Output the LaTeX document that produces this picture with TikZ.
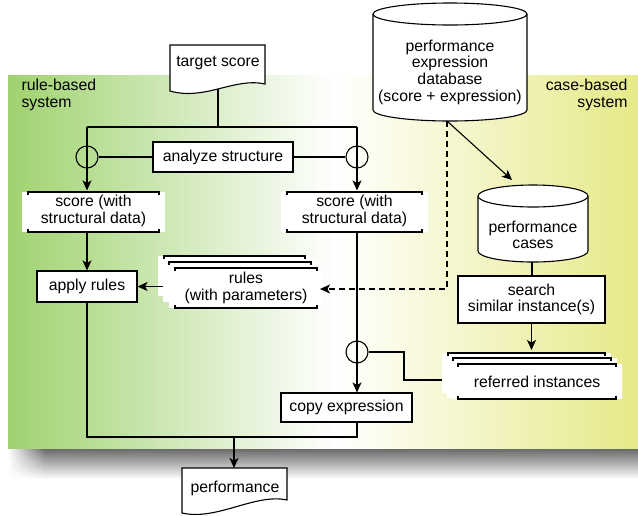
\documentclass[tikz,border=0pt]{standalone}
\usepackage{fontspec}
\setmainfont{Liberation Sans}
\usetikzlibrary{arrows.meta,calc,fadings}
\definecolor{bgreen}{RGB}{160,210,112}
\definecolor{byellow}{RGB}{230,233,135}
% x1,y1,x2,y2 : white card with ticked top and bottom lines
\newcommand\tickedcard[4]{%
  \fill[white] (#1-6,#2) rectangle (#3+6,#4);
  \draw (#1,#2+3) -- (#1,#2) -- (#3,#2) -- (#3,#2+3);
  \draw (#1,#4-3) -- (#1,#4) -- (#3,#4) -- (#3,#4-3);
}
% x1,y1,x2 : back card of a stack (top line only)
\newcommand\backcard[3]{%
  \fill[white] (#1-6,#2) rectangle (#3+6,#2+40);
  \draw (#1,#2+3) -- (#1,#2) -- (#3,#2) -- (#3,#2+3);
}
\begin{document}
\begin{tikzpicture}[x=1pt,y=-1pt,line width=1.1pt,
  font=\fontsize{15.8}{16.7}\selectfont,
  box/.style={draw,fill=white,align=center,inner sep=0pt},
  txt/.style={align=center,inner sep=0pt},
  arr/.style={-{Stealth[length=10pt,width=9pt,inset=2.5pt]}},
  circ/.style={draw,circle,minimum size=22pt,inner sep=0pt},
  dsh/.style={dash pattern=on 6pt off 4pt}]
\useasboundingbox (0,0) rectangle (638,515);
% background band
\shade[left color=bgreen,right color=white] (8,75) rectangle (335,449);
\shade[left color=white,right color=byellow] (334.5,75) rectangle (638,449);
\shade[top color=black!58,bottom color=white] (8,449) rectangle (638,479);
\fill[white,path fading=east] (8,449) rectangle (45,480);
% side labels
\node[align=left,inner sep=0pt,anchor=west] (lrb) at (21,95) {rule-based\\system};
\node[align=right,inner sep=0pt,anchor=east] (lcb) at (628,95) {case-based\\system};
% target score document
\draw[fill=white] (170,45) -- (265,45) -- (265,84) .. controls (235,77) and (205,101) .. (170,91) -- cycle;
\node[txt] (ts) at (218,63) {target score};
\coordinate (tsb) at (218,89);
\coordinate (j1) at (218,127);
\coordinate (jl) at (87,127);
\coordinate (jr) at (357,127);
% analyze structure
\node[circ] (c1) at (87,157) {};
\node[circ] (c2) at (357,157) {};
\node[box,minimum width=140pt,minimum height=30pt] (az) at (223,157) {analyze structure};
% score cards
\tickedcard{28}{192}{159}{232}
\node[txt,minimum width=131pt,minimum height=40pt] (s1) at (93.5,211) {score (with\\structural data)};
\tickedcard{287}{192}{422}{232}
\node[txt,minimum width=135pt,minimum height=40pt] (s2) at (354.5,211) {score (with\\structural data)};
% apply rules
\node[box,minimum width=100pt,minimum height=31pt] (ar) at (87,286.5) {apply rules};
% rules stack
\backcard{164}{256}{305}
\backcard{169}{262}{311}
\tickedcard{175}{268}{317}{308}
\node[txt] (rl) at (246,288) {rules\\(with parameters)};
\coordinate (rlout) at (163,286.5);
\coordinate (rlin) at (320,289);
% database
\fill[white] (373,14) rectangle (527,110);
\fill[white] (450,110) ellipse[x radius=77,y radius=11];
\fill[white] (450,14) ellipse[x radius=77,y radius=11];
\draw (373,14) -- (373,110) arc[start angle=180,end angle=0,x radius=77,y radius=11] -- (527,14);
\draw (450,14) ellipse[x radius=77,y radius=11];
\node[txt] (db) at (450,72) {performance\\expression\\database\\(score + expression)};
\coordinate (dbb) at (447,121);
% performance cases
\fill[white] (478,196) rectangle (588,251);
\fill[white] (533,251) ellipse[x radius=55,y radius=11];
\fill[white] (533,196) ellipse[x radius=55,y radius=11];
\draw (478,196) -- (478,251) arc[start angle=180,end angle=0,x radius=55,y radius=11] -- (588,196);
\draw (533,196) ellipse[x radius=55,y radius=11];
\node[txt] (pc) at (533,235) {performance\\cases};
\coordinate (pct) at (512,180);
\coordinate (pcb) at (532,262);
% search
\node[box,minimum width=147pt,minimum height=47pt] (sr) at (531.5,299.5) {search\\similar instance(s)};
% referred instances stack
\backcard{448}{353}{605}
\backcard{453}{358}{611}
\tickedcard{458}{364}{616}{399}
\node[txt] (ri) at (537,382) {referred instances};
\coordinate (rit) at (531.5,350);
\coordinate (riw) at (442,380);
\coordinate (rk) at (404,380);
% copy expression
\node[circ] (c3) at (357,352) {};
\node[box,minimum width=131pt,minimum height=29pt] (ce) at (346.5,407.5) {copy expression};
% performance document
\draw[fill=white] (182,468) -- (287,468) -- (287,500) .. controls (255,493) and (217,521) .. (182,513) -- cycle;
\node[txt] (pf) at (235,488) {performance};
\coordinate (jb) at (234,437);
% connectors
\draw (tsb) -- (j1);
\draw (jl) -- (jr);
\draw[arr] (jl) -- (jl |- s1.north);
\draw[arr] (jr) -- (jr |- s2.north);
\draw (c1.east) -- (az.west);
\draw (az.east) -- (c2.west);
\draw[arr] (jl |- s1.south) -- (ar.north);
\draw[arr] (rlout) -- (ar.east);
\draw[arr,dsh] (dbb) -- (dbb |- rlin) -- (rlin);
\draw[arr] (dbb) -- (pct);
\draw (pcb) -- (pcb |- sr.north);
\draw[arr] (sr.south) -- (rit);
\draw (riw) -- (rk) -- (rk |- c3.east) -- (c3.east);
\draw[arr] (jr |- s2.south) -- (jr |- ce.north);
\draw (jr |- ce.south) -- (jr |- jb) -- (jl |- jb) -- (ar.south);
\draw[arr] (jb) -- (jb |- 0,468);
\end{tikzpicture}
\end{document}
